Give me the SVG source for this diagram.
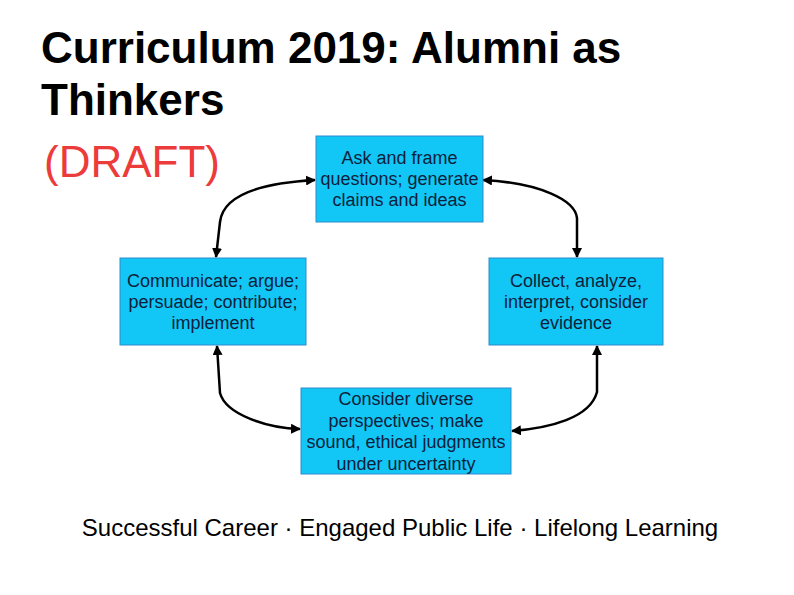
<svg xmlns="http://www.w3.org/2000/svg" width="794" height="595" viewBox="0 0 794 595">
<style>
.box{fill:#12c6f6;stroke:#2f8bcc;stroke-width:1}
.bt{font-family:"Liberation Sans",Arial,sans-serif;font-size:18px;fill:#0d1f3c;text-anchor:middle}
.title{font-family:"Liberation Sans",Arial,sans-serif;font-size:44px;font-weight:bold;fill:#000}
.conn{fill:none;stroke:#000;stroke-width:2.5;marker-start:url(#ah);marker-end:url(#ah)}
</style>
<defs>
<marker id="ah" viewBox="0 0 10 10" refX="9" refY="5" markerWidth="4" markerHeight="4" orient="auto-start-reverse" markerUnits="strokeWidth">
<path d="M0,0 L10,5 L0,10 z" fill="#000"/>
</marker>
</defs>
<rect width="794" height="595" fill="#fff"/>
<g id="title">
<text class="title" x="41" y="63">Curriculum 2019: Alumni as</text>
<text class="title" x="41" y="115">Thinkers</text>
<text x="44" y="177" font-family="Liberation Sans, Arial, sans-serif" font-size="44" fill="#ec3b3b">(DRAFT)</text>
</g>
<g id="connectors">
<path class="conn" d="M315,180 C262,183 223,195 220,222 L216,257"/>
<path class="conn" d="M483,180 C540,183 575,200 577,218 L577,257"/>
<path class="conn" d="M217,346 L220,393 C226,415 268,428 300,429"/>
<path class="conn" d="M597,346 L597,392 C590,418 550,428 512,431"/>
</g>
<g id="n-ask">
<rect class="box" x="316" y="136" width="167" height="86"/>
<text class="bt" x="399.5"><tspan x="399.5" y="164">Ask and frame</tspan><tspan x="399.5" y="185">questions; generate</tspan><tspan x="399.5" y="206">claims and ideas</tspan></text>
</g>
<g id="n-communicate">
<rect class="box" x="120" y="258" width="186" height="87"/>
<text class="bt"><tspan x="213" y="287">Communicate; argue;</tspan><tspan x="213" y="308">persuade; contribute;</tspan><tspan x="213" y="329">implement</tspan></text>
</g>
<g id="n-collect">
<rect class="box" x="489" y="258" width="174" height="87"/>
<text class="bt"><tspan x="576" y="287">Collect, analyze,</tspan><tspan x="576" y="308">interpret, consider</tspan><tspan x="576" y="329">evidence</tspan></text>
</g>
<g id="n-consider">
<rect class="box" x="301" y="388" width="210" height="86"/>
<text class="bt"><tspan x="406" y="405">Consider diverse</tspan><tspan x="406" y="427">perspectives; make</tspan><tspan x="406" y="448">sound, ethical judgments</tspan><tspan x="406" y="470">under uncertainty</tspan></text>
</g>
<g id="footer">
<text x="400" y="536" text-anchor="middle" font-family="Liberation Sans, Arial, sans-serif" font-size="24" fill="#000">Successful Career · Engaged Public Life · Lifelong Learning</text>
</g>
</svg>
